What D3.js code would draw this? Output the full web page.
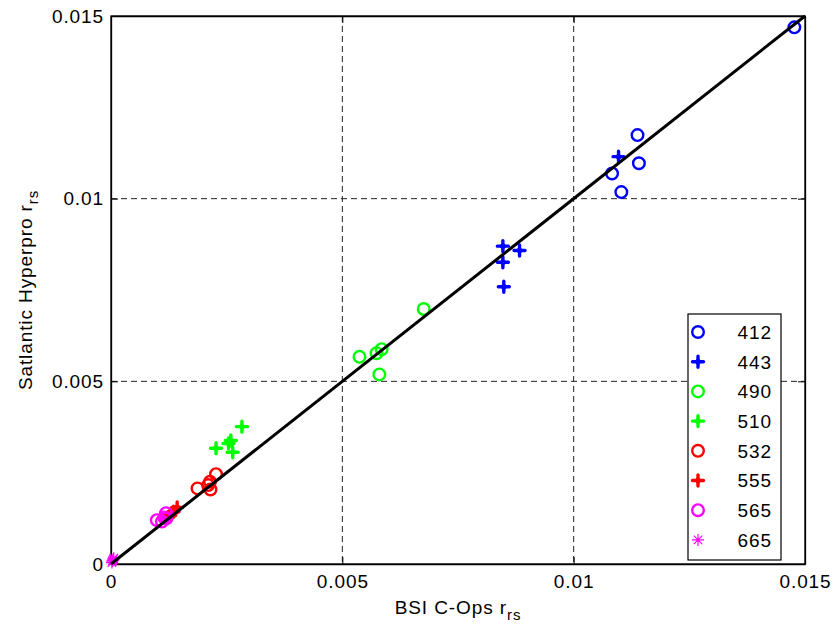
<!DOCTYPE html>
<meta charset="utf-8">
<html>
<head>
<style>
  body { margin: 0; background: #fff; }
  svg text { font-family: "Liberation Sans", Arial, sans-serif; fill: #000; }
</style>
</head>
<body>
<div id="chart"></div>
<script src="https://d3js.org/d3.v7.min.js"></script>
<script>
// band labels shown in the legend
var bands = ["412", "443", "490", "510", "532", "555", "565", "665"];

// BSI C-Ops (x) and Satlantic Hyperpro (y) rrs per band
var bsi412 = [0.01477, 0.01138, 0.01141, 0.01083, 0.01103];
var hyp412 = [0.01469, 0.01174, 0.01097, 0.01069, 0.01018];
var bsi443 = [0.01097, 0.00847, 0.00883, 0.00847, 0.00849];
var hyp443 = [0.01115, 0.00870, 0.00858, 0.00826, 0.00759];
var bsi490 = [0.00676, 0.00537, 0.00574, 0.00585, 0.00580];
var hyp490 = [0.00698, 0.00567, 0.00577, 0.00588, 0.00519];
var bsi510 = [0.00227, 0.00259, 0.00263, 0.00283, 0.00254];
var hyp510 = [0.00317, 0.00338, 0.00306, 0.00376, 0.00330];
var bsi532 = [0.00187, 0.00214, 0.00227, 0.00215, 0.00210];
var hyp532 = [0.00207, 0.00225, 0.00246, 0.00204, 0.00216];
var bsi555 = [0.00143, 0.00135, 0.00124, 0.00120, 0.00128];
var hyp555 = [0.00155, 0.00143, 0.00129, 0.00125, 0.00133];
var bsi565 = [0.00099, 0.00119, 0.00120, 0.00110, 0.00115];
var hyp565 = [0.00120, 0.00139, 0.00125, 0.00116, 0.00127];
var bsi665 = [0.00003, 0.00005, 0.00006, 0.00002, 0.00004];
var hyp665 = [0.00008, 0.00013, 0.00016, 0.00004, 0.00010];

var ticks = [0, 0.005, 0.01, 0.015];
var tickLabels = ["0", "0.005", "0.01", "0.015"];

// marker style per band (not data)
var styles = [
  {color: "#0000ff", shape: "o"}, {color: "#0000ff", shape: "+"},
  {color: "#00ff00", shape: "o"}, {color: "#00ff00", shape: "+"},
  {color: "#ff0000", shape: "o"}, {color: "#ff0000", shape: "+"},
  {color: "#ff00ff", shape: "o"}, {color: "#ff00ff", shape: "*"}
];

var xs = [bsi412, bsi443, bsi490, bsi510, bsi532, bsi555, bsi565, bsi665];
var ys = [hyp412, hyp443, hyp490, hyp510, hyp532, hyp555, hyp565, hyp665];

var W = 834, H = 630;
var margin = {top: 16, right: 29, bottom: 66, left: 111},
    width = W - margin.left - margin.right,
    height = H - margin.top - margin.bottom;

var svg = d3.select("#chart").append("svg")
    .attr("width", W).attr("height", H)
  .append("g")
    .attr("transform", "translate(" + margin.left + "," + margin.top + ")");

var x = d3.scaleLinear().domain([0, 0.015]).range([0, width]);
var y = d3.scaleLinear().domain([0, 0.015]).range([height, 0]);

// dashed grid
svg.selectAll(".gx").data(ticks.slice(1, 3)).enter().append("line")
    .attr("x1", function(d) { return x(d); }).attr("x2", function(d) { return x(d); })
    .attr("y1", 0).attr("y2", height)
    .style("stroke", "#222").style("stroke-dasharray", "6,4").style("stroke-width", 1);
svg.selectAll(".gy").data(ticks.slice(1, 3)).enter().append("line")
    .attr("y1", function(d) { return y(d); }).attr("y2", function(d) { return y(d); })
    .attr("x1", 0).attr("x2", width)
    .style("stroke", "#222").style("stroke-dasharray", "6,4").style("stroke-width", 1);

// axes with inward ticks, box on
var fmt = function(d) { return tickLabels[ticks.indexOf(d)]; };
svg.append("g").attr("transform", "translate(0," + height + ")")
    .call(d3.axisBottom(x).tickValues(ticks).tickFormat(fmt).tickSizeInner(-7).tickSizeOuter(0).tickPadding(11));
svg.append("g")
    .call(d3.axisLeft(y).tickValues(ticks).tickFormat(fmt).tickSizeInner(-7).tickSizeOuter(0).tickPadding(7));
svg.append("g")
    .call(d3.axisTop(x).tickValues(ticks).tickFormat("").tickSizeInner(-7).tickSizeOuter(0));
svg.append("g").attr("transform", "translate(" + width + ",0)")
    .call(d3.axisRight(y).tickValues(ticks).tickFormat("").tickSizeInner(-7).tickSizeOuter(0));
svg.selectAll(".domain").style("stroke", "#000").style("stroke-width", 1.3);
svg.selectAll(".tick line").style("stroke", "#000");
svg.selectAll(".tick text").style("font-size", "19px").style("letter-spacing", "0.9px");

svg.append("rect").attr("x", 0).attr("y", 0).attr("width", width).attr("height", height)
    .style("fill", "none").style("stroke", "#000").style("stroke-width", 1.3);

// marker drawer
function marker(g, shape, color) {
  if (shape === "o") {
    g.append("circle").attr("r", 5.8)
      .style("fill", "none").style("stroke", color).style("stroke-width", 2.4);
  } else if (shape === "+") {
    g.append("path").attr("d", "M-5.5,0H5.5M0,-5.5V5.5")
      .style("stroke", color).style("stroke-width", 3.4).style("stroke-linecap", "round");
    g.append("path").attr("d", "M-4,0L0,-4L4,0L0,4Z").style("fill", color);
  } else {
    g.append("path").attr("d", "M-6,0H6M0,-6V6M-4.2,-4.2L4.2,4.2M-4.2,4.2L4.2,-4.2")
      .style("stroke", color).style("stroke-width", 1.2);
  }
}

// points
bands.forEach(function(b, i) {
  var pts = xs[i].map(function(v, j) { return [v, ys[i][j]]; });
  svg.selectAll(".p" + b).data(pts).enter().append("g")
      .attr("transform", function(d) { return "translate(" + x(d[0]) + "," + y(d[1]) + ")"; })
      .each(function() { marker(d3.select(this), styles[i].shape, styles[i].color); });
});

// 1:1 line
svg.append("line")
    .attr("x1", x(0)).attr("y1", y(0)).attr("x2", x(0.015)).attr("y2", y(0.015))
    .style("stroke", "#000").style("stroke-width", 3);

// legend
var lg = svg.append("g").attr("transform", "translate(" + (688 - margin.left) + "," + (314 - margin.top) + ")");
lg.append("rect").attr("width", 93).attr("height", 246)
    .style("fill", "#fff").style("stroke", "#000").style("stroke-width", 1.2);
bands.forEach(function(b, i) {
  var row = lg.append("g").attr("transform", "translate(0," + (18 + i * 29.7) + ")");
  var m = row.append("g").attr("transform", "translate(10,0)");
  marker(m, styles[i].shape, styles[i].color);
  row.append("text").attr("x", 84).attr("y", 0).attr("dy", "0.36em")
      .attr("text-anchor", "end").style("font-size", "19px").style("letter-spacing", "0.9px").text(b);
});

// axis labels
var xl = svg.append("text").attr("x", width / 2).attr("y", height + 50)
    .attr("text-anchor", "middle").style("font-size", "19px").style("letter-spacing", "0.9px");
xl.append("tspan").text("BSI C-Ops r");
xl.append("tspan").attr("dy", 6).style("font-size", "15px").text("rs");

var yl = svg.append("text").attr("transform", "translate(-79," + (height / 2) + ") rotate(-90)")
    .attr("text-anchor", "middle").style("font-size", "19px").style("letter-spacing", "0.9px");
yl.append("tspan").text("Satlantic Hyperpro r");
yl.append("tspan").attr("dy", 6).style("font-size", "15px").text("rs");
</script>
</body>
</html>
